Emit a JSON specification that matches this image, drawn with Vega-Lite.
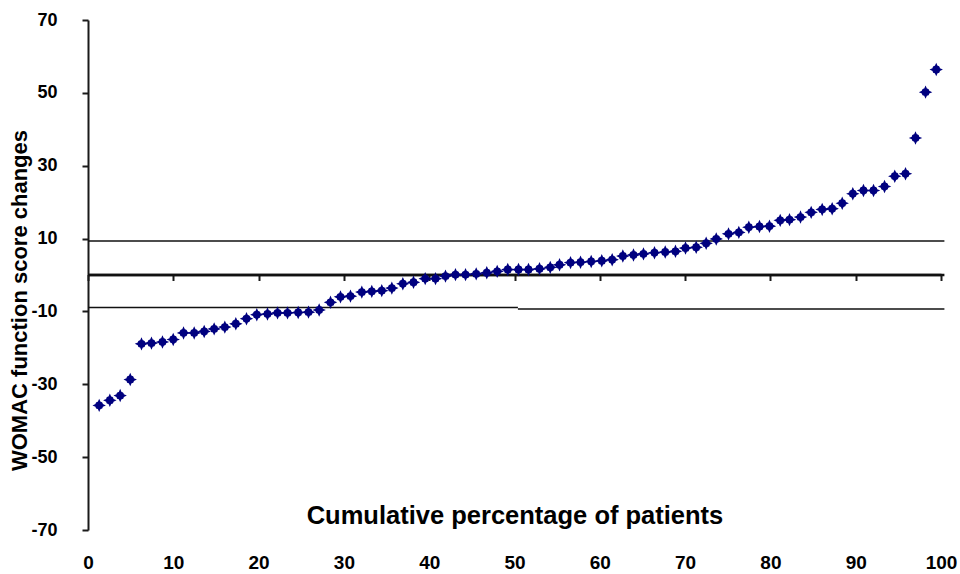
{
  "$schema": "https://vega.github.io/schema/vega-lite/v6.json",
  "width": 853,
  "height": 510,
  "autosize": "none",
  "padding": {"left": 88, "top": 20, "right": 19, "bottom": 44},
  "background": "white",
  "config": {"view": {"stroke": null}},
  "datasets": {
    "patients": [
      {"x": 1.31, "y": -35.8}, {"x": 2.56, "y": -34.4}, {"x": 3.77, "y": -33.1}, {"x": 4.95, "y": -28.7},
      {"x": 6.27, "y": -18.9}, {"x": 7.44, "y": -18.7}, {"x": 8.73, "y": -18.4}, {"x": 9.99, "y": -17.7},
      {"x": 11.2, "y": -15.9}, {"x": 12.45, "y": -15.9}, {"x": 13.62, "y": -15.5}, {"x": 14.79, "y": -14.8},
      {"x": 16.04, "y": -14.3}, {"x": 17.33, "y": -13.4}, {"x": 18.58, "y": -12.0}, {"x": 19.79, "y": -10.9},
      {"x": 21.04, "y": -10.7}, {"x": 22.22, "y": -10.4}, {"x": 23.39, "y": -10.4}, {"x": 24.64, "y": -10.3},
      {"x": 25.85, "y": -10.2}, {"x": 27.1, "y": -9.6}, {"x": 28.43, "y": -7.5}, {"x": 29.6, "y": -6.0},
      {"x": 30.77, "y": -5.8}, {"x": 32.1, "y": -4.7}, {"x": 33.27, "y": -4.5}, {"x": 34.44, "y": -4.3},
      {"x": 35.62, "y": -3.6}, {"x": 36.91, "y": -2.4}, {"x": 38.16, "y": -2.0}, {"x": 39.53, "y": -1.0},
      {"x": 40.74, "y": -1.0}, {"x": 41.91, "y": -0.3}, {"x": 43.08, "y": 0.1}, {"x": 44.26, "y": 0.1},
      {"x": 45.51, "y": 0.3}, {"x": 46.75, "y": 0.6}, {"x": 47.97, "y": 1.0}, {"x": 49.21, "y": 1.5},
      {"x": 50.47, "y": 1.5}, {"x": 51.64, "y": 1.5}, {"x": 52.93, "y": 1.7}, {"x": 54.19, "y": 2.1},
      {"x": 55.28, "y": 2.8}, {"x": 56.57, "y": 3.4}, {"x": 57.74, "y": 3.5}, {"x": 58.99, "y": 3.7},
      {"x": 60.23, "y": 3.9}, {"x": 61.45, "y": 4.2}, {"x": 62.7, "y": 5.2}, {"x": 63.95, "y": 5.5},
      {"x": 65.12, "y": 5.8}, {"x": 66.41, "y": 6.1}, {"x": 67.67, "y": 6.3}, {"x": 68.87, "y": 6.5},
      {"x": 70.05, "y": 7.4}, {"x": 71.3, "y": 7.6}, {"x": 72.47, "y": 8.7}, {"x": 73.65, "y": 9.9},
      {"x": 75.09, "y": 11.3}, {"x": 76.3, "y": 11.7}, {"x": 77.47, "y": 13.1}, {"x": 78.72, "y": 13.3},
      {"x": 79.89, "y": 13.4}, {"x": 81.15, "y": 15.0}, {"x": 82.24, "y": 15.2}, {"x": 83.53, "y": 15.9},
      {"x": 84.78, "y": 17.2}, {"x": 86.07, "y": 18.0}, {"x": 87.24, "y": 18.2}, {"x": 88.42, "y": 19.7},
      {"x": 89.66, "y": 22.3}, {"x": 90.91, "y": 23.2}, {"x": 92.09, "y": 23.2}, {"x": 93.38, "y": 24.3},
      {"x": 94.58, "y": 27.1}, {"x": 95.84, "y": 27.8}, {"x": 97.01, "y": 37.6}, {"x": 98.19, "y": 50.2},
      {"x": 99.44, "y": 56.4}
    ],
    "thresholds": [
      {"x": 0, "xend": 100.4, "y": 9.3},
      {"x": 0, "xend": 50.4, "y": -8.9},
      {"x": 50.4, "xend": 100.4, "y": -9.3}
    ],
    "zero": [
      {"x": 0, "xend": 100.4, "y": 0}
    ]
  },
  "encoding": {
    "x": {
      "field": "x",
      "type": "quantitative",
      "scale": {"domain": [0, 100], "nice": false, "zero": false},
      "axis": {
        "orient": "bottom",
        "offset": -255.5,
        "values": [0, 10, 20, 30, 40, 50, 60, 70, 80, 90, 100],
        "grid": false,
        "domainColor": "#111111",
        "domainWidth": 2.5,
        "tickColor": "#1a1a1a",
        "tickWidth": 2,
        "tickSize": 6,
        "labelPadding": 273,
        "labelFlush": false,
        "labelFont": "Liberation Sans",
        "labelFontSize": 19,
        "labelFontWeight": "bold",
        "labelColor": "#000000",
        "labelBaseline": "top",
        "title": "Cumulative percentage of patients",
        "titleFont": "Liberation Sans",
        "titleFontSize": 25.5,
        "titleFontWeight": "bold",
        "titleColor": "#000000",
        "titleY": 240.5,
        "titleBaseline": "middle"
      }
    },
    "y": {
      "field": "y",
      "type": "quantitative",
      "scale": {"domain": [-70, 70], "nice": false, "zero": false},
      "axis": {
        "values": [-70, -50, -30, -10, 10, 30, 50, 70],
        "labelExpr": "datum.value + ''",
        "grid": false,
        "domainColor": "#1a1a1a",
        "domainWidth": 2,
        "tickColor": "#1a1a1a",
        "tickWidth": 2,
        "tickSize": 6,
        "labelPadding": 25,
        "labelFont": "Liberation Sans",
        "labelFontSize": 18,
        "labelFontWeight": "bold",
        "labelColor": "#000000",
        "title": "WOMAC function score changes",
        "titleFont": "Liberation Sans",
        "titleFontSize": 22,
        "titleFontWeight": "bold",
        "titleColor": "#000000",
        "titleX": -69,
        "titleY": 280,
        "titleBaseline": "middle"
      }
    }
  },
  "layer": [
    {
      "data": {"name": "thresholds"},
      "mark": {"type": "rule", "color": "#111111", "strokeWidth": 1.5, "clip": false},
      "encoding": {"x2": {"field": "xend"}}
    },
    {
      "data": {"name": "zero"},
      "mark": {"type": "rule", "color": "#111111", "strokeWidth": 2.5, "clip": false},
      "encoding": {"x2": {"field": "xend"}}
    },
    {
      "data": {"name": "patients"},
      "mark": {
        "type": "point",
        "filled": true,
        "opacity": 1,
        "color": "#00007f",
        "size": 180,
        "shape": "M0,-1L0.2,-0.55C0.45,-0.5 0.5,-0.45 0.55,-0.2L1,0L0.55,0.2C0.5,0.45 0.45,0.5 0.2,0.55L0,1L-0.2,0.55C-0.45,0.5 -0.5,0.45 -0.55,0.2L-1,0L-0.55,-0.2C-0.5,-0.45 -0.45,-0.5 -0.2,-0.55Z"
      }
    }
  ]
}
